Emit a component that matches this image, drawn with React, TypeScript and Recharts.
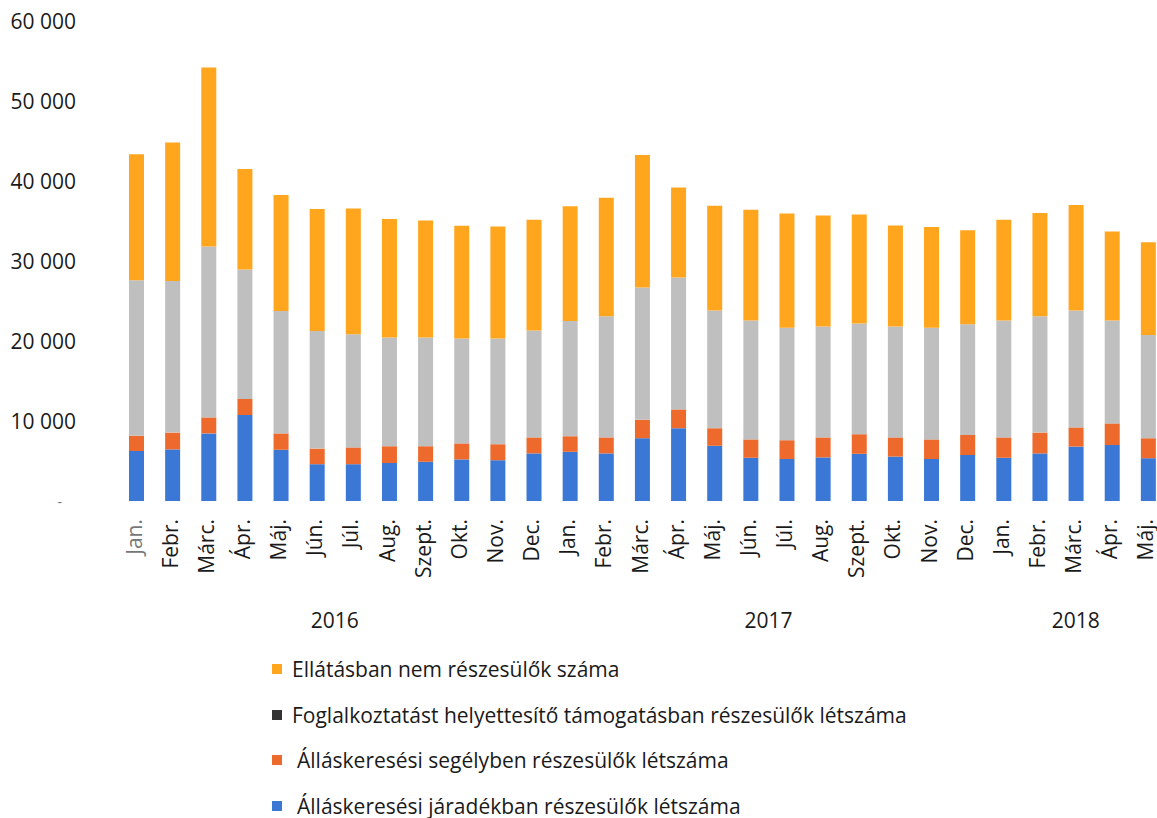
import React from "react";
import { BarChart, Bar, XAxis, YAxis } from "recharts";

const months = [
  "Jan.", "Febr.", "Márc.", "Ápr.", "Máj.", "Jún.", "Júl.", "Aug.", "Szept.", "Okt.", "Nov.", "Dec.",
  "Jan.", "Febr.", "Márc.", "Ápr.", "Máj.", "Jún.", "Júl.", "Aug.", "Szept.", "Okt.", "Nov.", "Dec.",
  "Jan.", "Febr.", "Márc.", "Ápr.", "Máj.",
];

const yearGroups = [
  { label: "2016", count: 12 },
  { label: "2017", count: 12 },
  { label: "2018", count: 5 },
];

// Álláskeresési járadékban részesülők létszáma
const jaradek = [6250, 6450, 8450, 10750, 6400, 4600, 4600, 4750, 4900, 5200, 5100, 5950, 6150, 5950, 7850, 9100, 6900, 5400, 5250, 5450, 5900, 5550, 5250, 5750, 5400, 5950, 6800, 7000, 5350];
// Álláskeresési segélyben részesülők létszáma
const segely = [1900, 2100, 2000, 2000, 2050, 1950, 2100, 2100, 1950, 2000, 2000, 2000, 1950, 2000, 2300, 2350, 2200, 2300, 2350, 2500, 2450, 2400, 2450, 2500, 2550, 2600, 2400, 2700, 2500];
// Foglalkoztatást helyettesítő támogatásban részesülők létszáma
const fht = [19450, 18950, 21350, 16200, 15300, 14700, 14150, 13600, 13600, 13100, 13200, 13350, 14400, 15150, 16550, 16500, 14700, 14850, 14050, 13850, 13850, 13850, 13950, 13850, 14600, 14550, 14600, 12850, 12900];
// Ellátásban nem részesülők száma
const nem = [15750, 17300, 22400, 12550, 14500, 15250, 15700, 14800, 14600, 14100, 14000, 13850, 14350, 14800, 16550, 11250, 13100, 13850, 14300, 13900, 13600, 12650, 12600, 11750, 12600, 12900, 13200, 11150, 11600];

const yTicks = [0, 10000, 20000, 30000, 40000, 50000, 60000];

const seriesNames = {
  nem: "Ellátásban nem részesülők száma",
  fht: "Foglalkoztatást helyettesítő támogatásban részesülők létszáma",
  segely: "Álláskeresési segélyben részesülők létszáma",
  jaradek: "Álláskeresési járadékban részesülők létszáma",
};

const COLORS = {
  nem: "#FFA51E",
  fht: "#BFBFBF",
  segely: "#EE6A2C",
  jaradek: "#3B78D6",
};

const FONT = "'Open Sans', 'Noto Sans', sans-serif";

const CHART_W = 1180;
const CHART_H = 660;
const MARGIN = { top: 21, right: 14, bottom: 0, left: 0 };
const YAXIS_W = 118;
const PITCH = (CHART_W - MARGIN.left - MARGIN.right - YAXIS_W) / months.length;

const data = months.map((m, i) => ({
  key: `k${i}`,
  jaradek: jaradek[i],
  segely: segely[i],
  fht: fht[i],
  nem: nem[i],
}));

const groupStarts: Record<number, { label: string; count: number }> = {};
{
  let s = 0;
  yearGroups.forEach((g) => {
    groupStarts[s] = g;
    s += g.count;
  });
}

const fmt = (n: number) =>
  String(n).replace(/\B(?=(\d{3})+(?!\d))/g, " ");

const YTick = (props: any) => {
  const { x, y, payload } = props;
  if (payload.value === 0) {
    return (
      <text x={x - 14} y={y} textAnchor="end" dominantBaseline="central" fontSize={14} fill="#777" fontFamily={FONT}>
        -
      </text>
    );
  }
  return (
    <text x={x} y={y} textAnchor="end" dominantBaseline="central" fontSize={21} fill="#1a1a1a" fontFamily={FONT}>
      {fmt(payload.value)}
    </text>
  );
};

const MonthTick = (props: any) => {
  const { x, y, index } = props;
  return (
    <text
      transform={`translate(${x - 2.5},${y}) rotate(-90)`}
      textAnchor="end"
      dominantBaseline="central"
      fontSize={21}
      fill={index === 0 ? "#777" : "#1a1a1a"}
      fontFamily={FONT}
    >
      {months[index]}
    </text>
  );
};

const YearTick = (props: any) => {
  const { x, y, index } = props;
  const g = groupStarts[index];
  if (!g) return null;
  const cx = x + ((g.count - 1) / 2) * PITCH;
  return (
    <text x={cx} y={y} textAnchor="middle" dominantBaseline="central" fontSize={21} fill="#1a1a1a" fontFamily={FONT}>
      {g.label}
    </text>
  );
};

const legendItems = [
  { key: "nem", swatch: COLORS.nem, gap: 10 },
  { key: "fht", swatch: "#333333", gap: 10 },
  { key: "segely", swatch: COLORS.segely, gap: 15 },
  { key: "jaradek", swatch: COLORS.jaradek, gap: 15 },
];

export default function App() {
  return (
    <div
      style={{
        position: "absolute",
        left: 0,
        top: 0,
        width: 1157,
        height: 818,
        overflow: "hidden",
        background: "#fff",
        fontFamily: FONT,
      }}
    >
      <BarChart width={CHART_W} height={CHART_H} data={data} margin={MARGIN} barSize={15}>
        <YAxis
          width={YAXIS_W}
          domain={[0, 60000]}
          ticks={yTicks}
          interval={0}
          axisLine={false}
          tickLine={false}
          tickSize={0}
          tickMargin={42}
          tick={<YTick />}
        />
        <XAxis
          dataKey="key"
          height={100}
          axisLine={false}
          tickLine={false}
          tickSize={0}
          tickMargin={18}
          interval={0}
          tick={<MonthTick />}
        />
        <XAxis
          xAxisId="year"
          dataKey="key"
          height={59}
          axisLine={false}
          tickLine={false}
          tickSize={0}
          tickMargin={19}
          interval={0}
          tick={<YearTick />}
        />
        <Bar dataKey="jaradek" stackId="a" fill={COLORS.jaradek} isAnimationActive={false} name={seriesNames.jaradek} />
        <Bar dataKey="segely" stackId="a" fill={COLORS.segely} isAnimationActive={false} name={seriesNames.segely} />
        <Bar dataKey="fht" stackId="a" fill={COLORS.fht} isAnimationActive={false} name={seriesNames.fht} />
        <Bar dataKey="nem" stackId="a" fill={COLORS.nem} isAnimationActive={false} name={seriesNames.nem} />
      </BarChart>
      <div style={{ position: "absolute", left: 272, top: 655, color: "#1a1a1a", fontSize: 21 }}>
        {legendItems.map((it, i) => (
          <div
            key={it.key}
            style={{ display: "flex", alignItems: "center", height: 28, marginBottom: i < 3 ? 17.5 : 0 }}
          >
            <span style={{ display: "inline-block", width: 10, height: 10, background: it.swatch, marginRight: it.gap }} />
            <span style={{ lineHeight: "28px", whiteSpace: "nowrap" }}>{seriesNames[it.key as keyof typeof seriesNames]}</span>
          </div>
        ))}
      </div>
    </div>
  );
}
